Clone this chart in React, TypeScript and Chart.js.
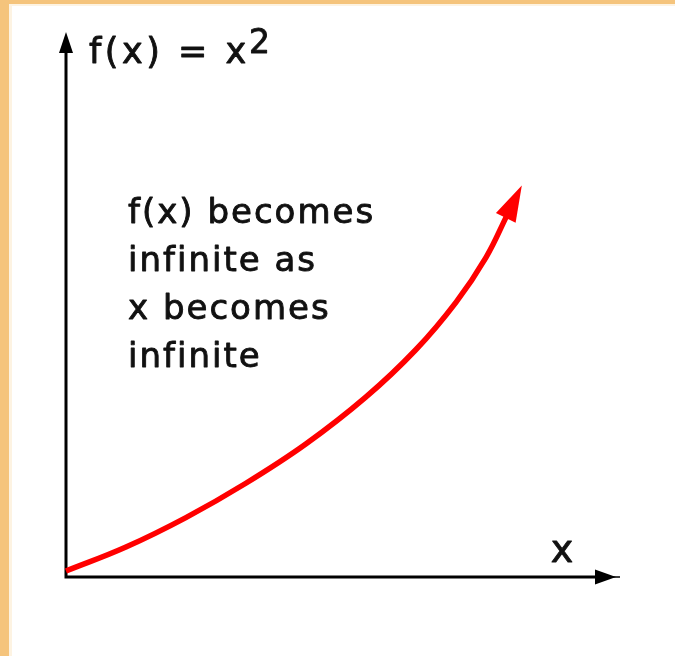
import React, { useEffect, useRef } from "react";
import { Chart, registerables } from "chart.js";

Chart.register(...registerables);

// Curve samples (arbitrary units along each axis)
const curveX = [0, 1.09, 2.18, 3.27, 4.36, 5.45, 6.36, 7.09, 7.64, 8.02];
const curveY = [0.11, 0.55, 1.09, 1.72, 2.44, 3.3, 4.17, 5.04, 5.87, 6.64];

const xRange = [0, 10];
const yRange = [0, 10];

const titleMain = "f(x) = x";
const titleSup = "2";
const noteLines = ["f(x) becomes", "infinite as", "x becomes", "infinite"];
const axisLabel = "x";

const W = 675;
const H = 656;

function arrowHead(
  ctx: CanvasRenderingContext2D,
  tipX: number,
  tipY: number,
  dirX: number,
  dirY: number,
  len: number,
  half: number,
  color: string
) {
  const px = -dirY;
  const py = dirX;
  const bx = tipX - dirX * len;
  const by = tipY - dirY * len;
  ctx.fillStyle = color;
  ctx.beginPath();
  ctx.moveTo(tipX, tipY);
  ctx.lineTo(bx + px * half, by + py * half);
  ctx.lineTo(bx - px * half, by - py * half);
  ctx.closePath();
  ctx.fill();
}

function boldText(ctx: CanvasRenderingContext2D, s: string, x: number, y: number) {
  ctx.fillText(s, x, y);
  ctx.strokeText(s, x, y);
}

const sketchPlugin = {
  id: "sketch",
  beforeDraw(chart: any) {
    const { ctx, width, height } = chart;
    ctx.save();
    ctx.fillStyle = "#ffffff";
    ctx.fillRect(0, 0, width, height);
    // frame strips
    ctx.fillStyle = "#f5c47c";
    ctx.fillRect(0, 0, width, 4);
    ctx.fillRect(0, 0, 9, height);
    ctx.fillStyle = "#fdf3e2";
    ctx.fillRect(9, 4, 3, height - 4);
    ctx.fillRect(9, 4, width - 9, 2);

    const xs = chart.scales.x;
    const ys = chart.scales.y;
    const x0 = xs.getPixelForValue(xRange[0]);
    const x1 = xs.getPixelForValue(xRange[1]);
    const y0 = ys.getPixelForValue(yRange[0]);
    const y1 = ys.getPixelForValue(yRange[1]);

    ctx.strokeStyle = "#000000";
    ctx.lineWidth = 3;
    ctx.lineCap = "butt";
    ctx.beginPath();
    ctx.moveTo(x0, y1 + 18);
    ctx.lineTo(x0, y0);
    ctx.lineTo(x1 - 18, y0);
    ctx.stroke();
    ctx.lineWidth = 1.5;
    ctx.beginPath();
    ctx.moveTo(x1 - 4, y0);
    ctx.lineTo(x1 + 4, y0);
    ctx.stroke();

    arrowHead(ctx, x0, y1, 0, -1, 21, 7, "#000000");
    arrowHead(ctx, x1, y0, 1, 0, 21, 7.5, "#000000");
    ctx.restore();
  },
  afterDatasetsDraw(chart: any) {
    const { ctx } = chart;
    const meta = chart.getDatasetMeta(0);
    const pts = meta.data;
    const p = pts[pts.length - 1];
    const q = pts[pts.length - 2];
    let dx = p.x - q.x;
    let dy = p.y - q.y;
    const d = Math.hypot(dx, dy);
    dx /= d;
    dy /= d;
    ctx.save();
    arrowHead(ctx, p.x + dx * 33, p.y + dy * 33, dx, dy, 36, 11, "#ff0000");

    ctx.fillStyle = "#111111";
    ctx.strokeStyle = "#111111";
    ctx.lineWidth = 0.9;
    ctx.lineJoin = "round";
    ctx.textBaseline = "alphabetic";
    ctx.textAlign = "left";
    ctx.font = '35px "DejaVu Sans"';
    (ctx as any).letterSpacing = "3.5px";
    boldText(ctx, titleMain, 89, 63);
    (ctx as any).letterSpacing = "0px";
    ctx.font = '33px "DejaVu Sans"';
    boldText(ctx, titleSup, 249, 53);

    ctx.font = '34px "DejaVu Sans"';
    (ctx as any).letterSpacing = "2px";
    noteLines.forEach((line, i) => {
      boldText(ctx, line, 128, 223 + i * 48);
    });

    (ctx as any).letterSpacing = "0px";
    ctx.font = '38px "DejaVu Sans"';
    ctx.textAlign = "center";
    boldText(ctx, axisLabel, 562, 562);
    ctx.restore();
  },
};

export default function App() {
  const ref = useRef<HTMLCanvasElement | null>(null);

  useEffect(() => {
    if (!ref.current) return;
    const chart = new Chart(ref.current, {
      type: "line",
      data: {
        datasets: [
          {
            data: curveX.map((x, i) => ({ x, y: curveY[i] })),
            borderColor: "#ff0000",
            borderWidth: 5.5,
            pointRadius: 0,
            tension: 0.4,
            borderCapStyle: "butt",
            fill: false,
            clip: false,
          } as any,
        ],
      },
      options: {
        animation: false,
        responsive: false,
        devicePixelRatio: 1,
        layout: { padding: { left: 66, right: W - 616, top: 32, bottom: H - 577 } },
        plugins: { legend: { display: false }, tooltip: { enabled: false } },
        events: [],
        scales: {
          x: { type: "linear", min: xRange[0], max: xRange[1], display: false },
          y: { type: "linear", min: yRange[0], max: yRange[1], display: false },
        },
      },
      plugins: [sketchPlugin],
    });
    return () => chart.destroy();
  }, []);

  return (
    <div style={{ position: "fixed", left: 0, top: 0, width: W, height: H, background: "#fff" }}>
      <canvas ref={ref} width={W} height={H} style={{ display: "block" }} />
    </div>
  );
}
